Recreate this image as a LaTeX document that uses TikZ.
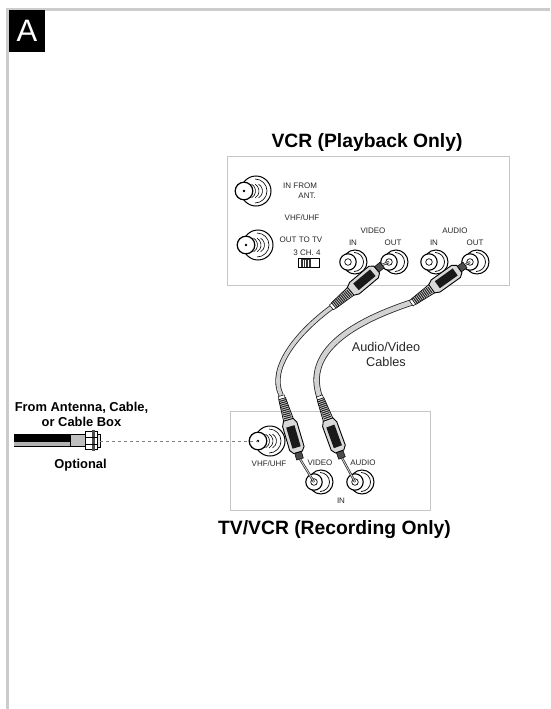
\documentclass[tikz,border=0pt]{standalone}
\usepackage{fontspec}
\setmainfont{Liberation Sans}
\tikzset{
  frameline/.style={gray!40, line width=3pt},
  panel/.style={draw=gray!45, line width=1pt},
  lbl/.style={inner sep=0pt, font=\fontsize{8}{9}\selectfont, text=black!85},
  caption/.style={inner sep=0pt, align=center, font=\fontsize{12.7}{15}\selectfont, text=black!85},
  boldcap/.style={inner sep=0pt, align=center, font=\fontsize{12.9}{15}\selectfont\bfseries},
  heading/.style={inner sep=0pt, font=\fontsize{19.3}{21}\selectfont\bfseries},
  coaxjack/.pic={
    \draw[fill=white, line width=1pt] (12,0) circle (15);
    \draw[line width=0.6pt] (11,-12) arc (-90:90:12);
    \foreach \d in {7.5,11,14.5}{
      \draw[line width=0.6pt] (\d,-6.9) arc (-60:60:8);
    }
    \draw[fill=white, line width=1.2pt] (0,0) circle (8.8);
    \fill (0,0) circle (1.3);
  },
  rcajack/.pic={
    \draw[fill=white, line width=1pt] (7,0) circle (12);
    \draw[line width=0.7pt] (6,-9.5) arc (-90:90:9.5);
    \draw[fill=white, line width=1.1pt] (0,0) circle (8.2);
    \draw[line width=0.7pt] (0,0) circle (3.3);
  },
  % collar at the origin, cable leaves along +x
  rcaplug/.pic={
    \draw[fill=black!70, line width=0.5pt] (0,-3.5) rectangle (7,3.5);
    \draw[fill=gray!30, line width=0.9pt] (7,-4.5) -- (11,-7.5) -- (36,-7.5) -- (41,-5) -- (41,5) -- (36,7.5) -- (11,7.5) -- (7,4.5) -- cycle;
    \fill[black!90] (12,-4.3) rectangle (34,4.3);
    \draw[fill=gray!30, line width=0.7pt] (41,-5) -- (63,-3.5) -- (63,3.5) -- (41,5) -- cycle;
    \foreach \k in {43,45,...,61}{
      \draw[black!85, line width=1.1pt] (\k,-3.8) -- (\k,3.8);
    }
    \draw[fill=white, line width=0.5pt] (63,-3.2) rectangle (66,3.2);
  },
  pincore/.style={gray!30, line width=0.8pt},
  pinedge/.style={black!85, line width=2.2pt},
}
\begin{document}
\begin{tikzpicture}[x=1pt, y=-1pt]
  \useasboundingbox (0,0) rectangle (550,709);

  % Page frame and letter tab
  \coordinate (framebottom) at (7,709);
  \coordinate (framecorner) at (7,10);
  \coordinate (frameright) at (550,10);
  \draw[frameline] (framebottom) -- (framecorner) -- (frameright);
  \node[fill=black, minimum width=36pt, minimum height=42pt, inner sep=0pt, text=white,
        font=\fontsize{31}{31}\selectfont] (tab) at (27,31) {A};

  % Panels
  \draw[panel] (227,156) rectangle (509,285);
  \draw[panel] (230,411) rectangle (430,510);
  \node[heading] (vcrtitle) at (367,143) {VCR (Playback Only)};
  \node[heading] (tvtitle) at (334.5,530) {TV/VCR (Recording Only)};

  % Jacks
  \coordinate (antin) at (244,191);
  \coordinate (antout) at (246,245);
  \coordinate (tvant) at (258,441);
  \pic at (antin) {coaxjack};
  \pic at (antout) {coaxjack};
  \pic at (tvant) {coaxjack};
  \foreach \n/\x/\y in {vidin/348/262, vidout/389/262, audin/429/262, audout/470/262, tvvid/314/482, tvaud/355/482}{
    \coordinate (\n) at (\x,\y);
    \pic at (\n) {rcajack};
  }

  % Panel labels
  \node[lbl, anchor=west] (infrom) at (283,186) {IN FROM};
  \node[lbl, anchor=east] (ant) at (316,196) {ANT.};
  \node[lbl] (vhfout) at (302,218) {VHF/UHF};
  \node[lbl] (outtv) at (301,240) {OUT TO TV};
  \node[lbl] (chan) at (307,253) {3 CH. 4};
  \node[lbl] (vcrvideo) at (373,231) {VIDEO};
  \node[lbl] (vcrvidin) at (353,243) {IN};
  \node[lbl] (vcrvidout) at (393,243) {OUT};
  \node[lbl] (vcraudio) at (455,231) {AUDIO};
  \node[lbl] (vcraudin) at (434,243) {IN};
  \node[lbl] (vcraudout) at (475,243) {OUT};
  \node[lbl] (tvvhf) at (269,464) {VHF/UHF};
  \node[lbl] (tvvideo) at (320,463) {VIDEO};
  \node[lbl] (tvaudio) at (363,463) {AUDIO};
  \node[lbl] (tvin) at (341,501) {IN};

  % Channel switch
  \draw[line width=0.8pt] (298,258.5) rectangle (319,267);
  \fill[black!80] (301,259) rectangle (311,267);
  \foreach \x in {303,305.5,308}{
    \draw[white, line width=0.5pt] (\x,259.5) -- (\x,266.5);
  }

  % Cables
  \coordinate (leftup) at (332,307);
  \coordinate (leftdown) at (281,395);
  \coordinate (rightup) at (413,302);
  \coordinate (rightdown) at (320,398);
  \draw[black!85, line width=5.2pt] (leftup) .. controls (298,332) and (268,368) .. (leftdown);
  \draw[gray!35, line width=3.6pt] (leftup) .. controls (298,332) and (268,368) .. (leftdown);
  \draw[black!85, line width=6.4pt] (rightup) .. controls (352,322) and (303,352) .. (rightdown);
  \draw[gray!35, line width=4.8pt] (rightup) .. controls (352,322) and (303,352) .. (rightdown);

  % Plugs
  \foreach \n/\c/\x/\y/\a in {vidout/vidcollar/382/265/220, audout/audcollar/465/265/215.5, tvvid/tvvidcollar/300/459/106.5, tvaud/tvaudcollar/342/458/110}{
    \coordinate (\c) at (\x,\y);
    \draw[pinedge] (\n) -- (\c);
    \draw[pincore] (\n) -- (\c);
    \pic[rotate=\a] at (\c) {rcaplug};
  }

  \node[caption] (cables) at (386,354.5) {Audio/Video\\Cables};

  % Antenna lead
  \coordinate (coaxtip) at (100,441);
  \fill[gray!60] (14,441) rectangle (70,446);
  \fill[black] (14,434) rectangle (70,442);
  \draw[line width=0.6pt] (14,446) -- (70,446);
  \draw[fill=gray!50, line width=0.6pt] (70,434.5) rectangle (85,446.5);
  \draw[fill=white, line width=0.7pt] (85,431) rectangle (97,449.5);
  \fill[black!70] (92,430) rectangle (95,451);
  \draw[line width=0.6pt] (85,437) -- (97,437) (85,444) -- (97,444);
  \draw[fill=gray!20, line width=0.6pt] (97,434) rectangle (100,447);
  \draw[gray, dashed, line width=0.6pt] (coaxtip) -- (tvant);

  \node[boldcap] (fromant) at (81.5,414.5) {From Antenna, Cable,\\or Cable Box};
  \node[boldcap] (optional) at (80.5,465) {Optional};
\end{tikzpicture}
\end{document}
